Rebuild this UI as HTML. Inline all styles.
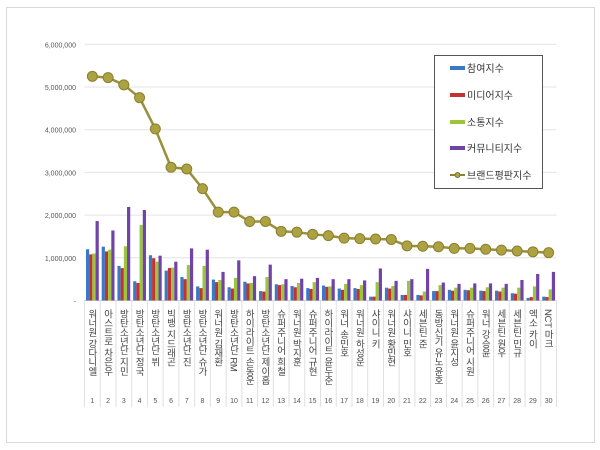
<!DOCTYPE html>
<html><head><meta charset="utf-8"><style>
body{margin:0;background:#fff;}
svg{display:block;font-family:"Liberation Sans","Noto Sans CJK KR",sans-serif;}
</style></head><body>
<svg id="c" width="600" height="450">
<rect x="6.5" y="7.5" width="588" height="435" fill="#fff" stroke="#d9d9d9"/>
<g id="grid"></g><g id="bars"></g><g id="line"></g><g id="cats"></g>
<g>
<rect x="434.5" y="55.5" width="108" height="133" fill="#fff" stroke="#555"/>
<g><rect x="450" y="66" width="15" height="4" fill="#3a78c8"/><text x="467" y="72" font-size="10" fill="#333">참여지수</text></g>
<g><rect x="450" y="93" width="15" height="4" fill="#c0332f"/><text x="467" y="99" font-size="10" fill="#333">미디어지수</text></g>
<g><rect x="450" y="120" width="15" height="4" fill="#9bc53d"/><text x="467" y="126" font-size="10" fill="#333">소통지수</text></g>
<g><rect x="450" y="146" width="15" height="4" fill="#7043a8"/><text x="467" y="152" font-size="10" fill="#333">커뮤니티지수</text></g>
<g><line x1="450" y1="175" x2="465" y2="175" stroke="#8c8231" stroke-width="2"/><circle cx="457.5" cy="175" r="2.5" fill="#b0a444" stroke="#7a7030"/><text x="467" y="179" font-size="10" fill="#333">브랜드평판지수</text></g>
</g>
</svg>
<script>
const categories=["워너원 강다니엘","아스트로 차은우","방탄소년단 지민","방탄소년단 정국","방탄소년단 뷔","빅뱅 지드래곤","방탄소년단 진","방탄소년단 슈가","워너원 김재환","방탄소년단 RM","하이라이트 손동운","방탄소년단 제이홉","슈퍼주니어 희철","워너원 박지훈","슈퍼주니어 규현","하이라이트 윤두준","워너 송민호","워너원 하성운","샤이니 키","워너원 황민현","샤이니 민호","세븐틴 준","동방신기 유노윤호","워너원 윤지성","슈퍼주니어 시원","워너 강승윤","세븐틴 원우","세븐틴 민규","엑소 카이","NCT 마크"];
const participation=[1.2,1.26,0.81,0.45,1.06,0.7,0.55,0.33,0.49,0.31,0.44,0.22,0.38,0.34,0.29,0.35,0.28,0.29,0.09,0.3,0.13,0.13,0.22,0.25,0.25,0.23,0.23,0.17,0.06,0.09];
const media=[1.08,1.15,0.76,0.41,0.99,0.76,0.5,0.29,0.43,0.28,0.4,0.21,0.36,0.31,0.27,0.32,0.25,0.27,0.09,0.28,0.13,0.12,0.22,0.23,0.24,0.22,0.21,0.16,0.08,0.08];
const communication=[1.1,1.19,1.27,1.77,0.91,0.77,0.83,0.81,0.48,0.53,0.41,0.55,0.38,0.41,0.43,0.33,0.39,0.36,0.43,0.34,0.46,0.21,0.36,0.3,0.3,0.31,0.3,0.3,0.33,0.26];
const community=[1.86,1.64,2.19,2.12,1.05,0.91,1.22,1.19,0.67,0.94,0.57,0.84,0.5,0.51,0.53,0.5,0.5,0.47,0.75,0.46,0.5,0.74,0.42,0.39,0.4,0.4,0.39,0.48,0.62,0.67];
const brand=[5.25,5.22,5.05,4.75,4.02,3.12,3.08,2.62,2.07,2.07,1.85,1.85,1.62,1.6,1.55,1.52,1.46,1.45,1.44,1.43,1.28,1.27,1.26,1.22,1.22,1.2,1.18,1.16,1.14,1.12];
const yTicks=[0,1,2,3,4,5,6];
const yTickLabels=["-","1,000,000","2,000,000","3,000,000","4,000,000","5,000,000","6,000,000"];

const NS="http://www.w3.org/2000/svg";
const X0=84.5,X1=556.5,Y0=300.5,PPM=42.7;
const bw=(X1-X0)/categories.length;
const y=v=>Y0-v*PPM;
const xc=i=>X0+bw*(i+0.5);
function mk(t,a,p){const e=document.createElementNS(NS,t);for(const k in a)e.setAttribute(k,a[k]);p.appendChild(e);return e;}
const grid=document.getElementById('grid');
yTicks.forEach((t,i)=>{
  const l=mk('line',{x1:X0,x2:X1,y1:y(t),y2:y(t),stroke:i?'#e3e3e3':'#d0d0d0'},grid);
  
  
  const tx=mk('text',{x:76,y:y(t)+3,'font-size':7,fill:'#555','text-anchor':'end'},grid);
  tx.textContent=yTickLabels[i];
  
  
});
const bars=document.getElementById('bars');
const series=[[participation,'#3a78c8'],[media,'#c0332f'],[communication,'#9bc53d'],[community,'#7043a8']];
const sw=3.2;
categories.forEach((c,i)=>{
  series.forEach((s,j)=>{
    const v=s[0][i];
    const r=mk('rect',{x:xc(i)-2*sw+j*sw,y:y(v),width:sw,height:Y0-y(v),fill:s[1]},bars);
    
    
  });
});
const line=document.getElementById('line');
const pl=mk('polyline',{points:brand.map((v,i)=>xc(i)+','+y(v)).join(' '),fill:'none',stroke:'#9a8f3a','stroke-width':2.5},line);


brand.forEach((v,i)=>{
  const p=mk('circle',{cx:xc(i),cy:y(v),r:5,fill:'#ada242',stroke:'#8a7f30','stroke-width':1},line);
  
  
});
const cats=document.getElementById('cats');
for(let i=0;i<=categories.length;i++){
  const l=mk('line',{x1:X0+bw*i,x2:X0+bw*i,y1:Y0,y2:407,stroke:'#e0e0e0'},cats);
  
  
}
categories.forEach((c,i)=>{
  const t=mk('text',{x:xc(i)-1,y:309,'font-size':9.5,fill:'#444','writing-mode':'tb','glyph-orientation-vertical':0,'text-anchor':'start','letter-spacing':-0.3},cats);
  t.style.writingMode='vertical-rl';
  t.textContent=c;
  
  
  const n=mk('text',{x:xc(i),y:403,'font-size':7,fill:'#555','text-anchor':'middle'},cats);
  n.textContent=String(i+1);
  
  
});
</script>
</body></html>
